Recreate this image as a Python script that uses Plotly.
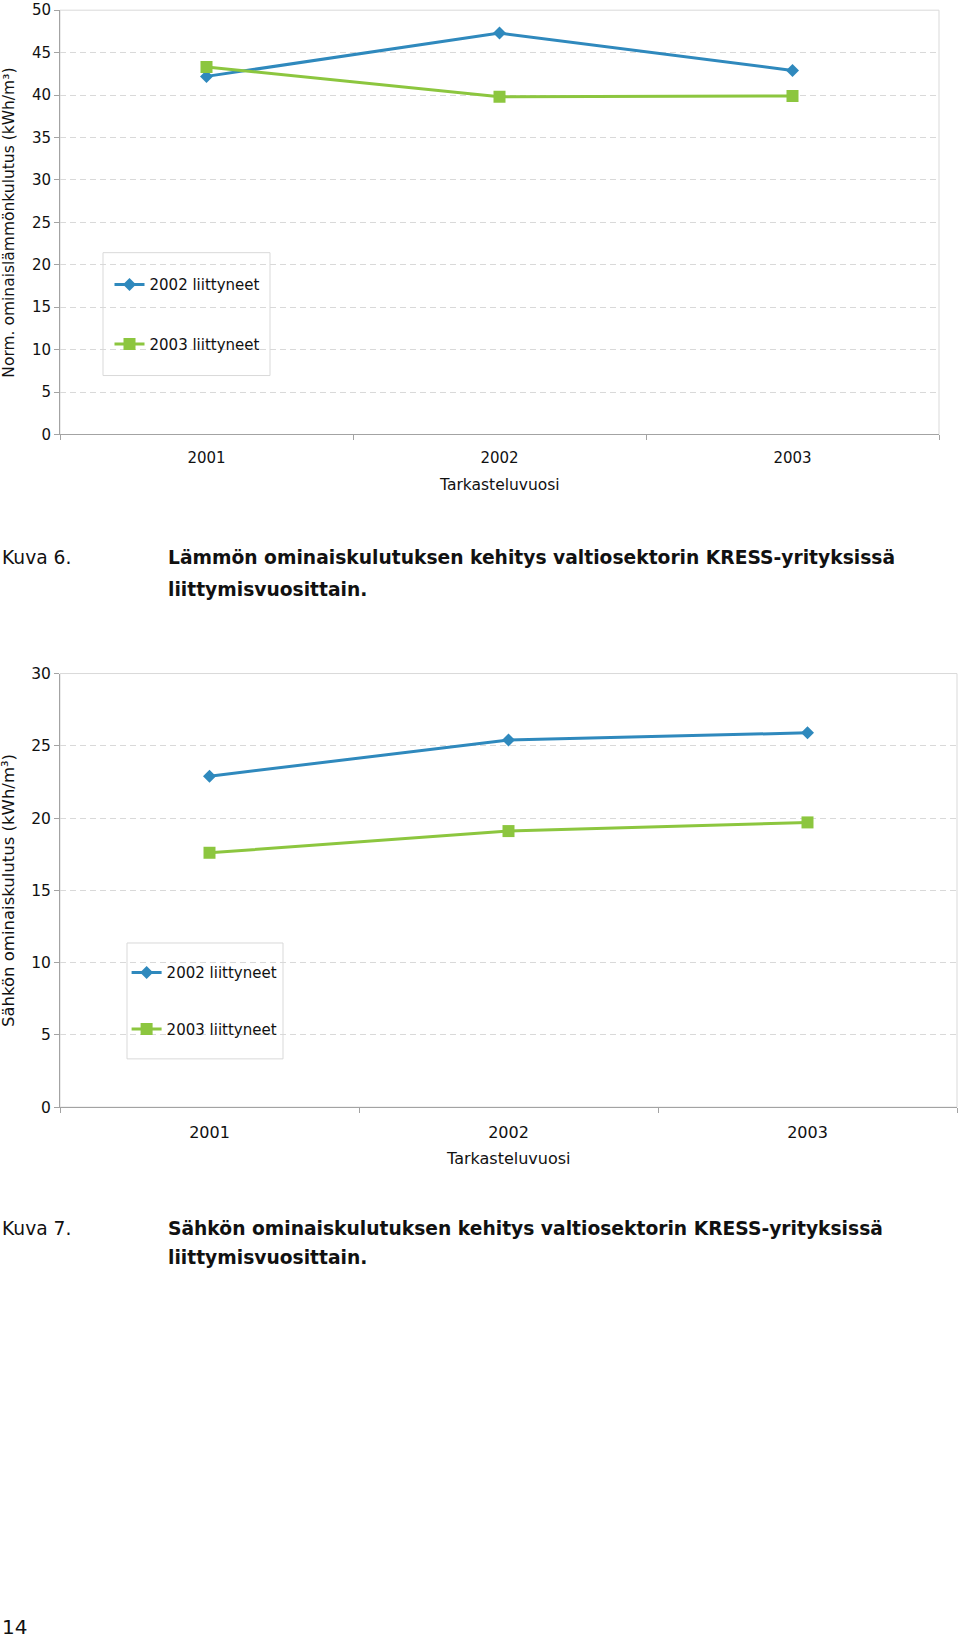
import plotly.graph_objects as go

# ---- data ----
years = ["2001", "2002", "2003"]
series_names = ["2002 liittyneet", "2003 liittyneet"]
heat_2002 = [42.2, 47.3, 42.9]
heat_2003 = [43.3, 39.8, 39.9]
elec_2002 = [22.9, 25.4, 25.9]
elec_2003 = [17.6, 19.1, 19.7]
heat_ticks = list(range(0, 51, 5))
elec_ticks = list(range(0, 31, 5))

W, H = 960, 1642
BLUE = "#2f89bd"
GREEN = "#8cc63f"
GRID = "#d9d9d9"
AXIS = "#a3a3a3"
FONT = "DejaVu Sans"

# the photographed page comes out slightly squeezed vertically; compensate
VS, VO = 0.990, 8.1

def px(x):
    return x / W

def py(y):
    return 1 - ((y - VO) / VS) / H

xs = list(range(len(years)))

fig = go.Figure()

def add_pair(vals_a, vals_b, xa, ya, leg):
    fig.add_trace(go.Scatter(
        x=xs, y=vals_a, name=series_names[0], mode="lines+markers",
        line=dict(color=BLUE, width=3),
        marker=dict(symbol="diamond", size=10, color=BLUE),
        xaxis=xa, yaxis=ya, legend=leg, legendgroup=leg + "a"))
    fig.add_trace(go.Scatter(
        x=xs, y=vals_b, name=series_names[1], mode="lines+markers",
        line=dict(color=GREEN, width=3),
        marker=dict(symbol="square", size=12, color=GREEN),
        xaxis=xa, yaxis=ya, legend=leg, legendgroup=leg + "b"))

add_pair(heat_2002, heat_2003, "x", "y", "legend")
add_pair(elec_2002, elec_2003, "x2", "y2", "legend2")

def xaxis_cfg(dom, anchor, standoff, fs):
    return dict(
        domain=dom, anchor=anchor, range=[-0.5, len(years) - 0.5],
        tickvals=xs, ticktext=years, ticks="", showgrid=False,
        showline=True, linecolor=AXIS, linewidth=1, zeroline=False,
        tickfont=dict(family=FONT, size=fs, color="#111"),
        ticklabelstandoff=standoff,
        minor=dict(tick0=-0.5, dtick=1, ticks="outside", ticklen=5,
                   tickcolor=AXIS, showgrid=False),
        fixedrange=True)

def yaxis_cfg(dom, anchor, ticks, fs):
    return dict(
        domain=dom, anchor=anchor, range=[ticks[0], ticks[-1]],
        tickvals=ticks, ticks="outside", ticklen=5, tickcolor=AXIS,
        showline=True, linecolor=AXIS, linewidth=1, zeroline=False,
        showgrid=True, gridcolor=GRID, griddash="6px,4px", gridwidth=1,
        tickfont=dict(family=FONT, size=fs, color="#111"),
        fixedrange=True)

c1 = dict(l=60, r=939, t=9.3, b=434)
c2 = dict(l=60, r=957, t=673.3, b=1107.3)

fig.update_layout(
    width=W, height=H, margin=dict(l=0, r=0, t=0, b=0),
    paper_bgcolor="white", plot_bgcolor="white",
    xaxis=xaxis_cfg([px(c1["l"]), px(c1["r"])], "y", 10, 15),
    yaxis=yaxis_cfg([py(c1["b"]), py(c1["t"])], "x", heat_ticks, 15),
    xaxis2=xaxis_cfg([px(c2["l"]), px(c2["r"])], "y2", 11, 16),
    yaxis2=yaxis_cfg([py(c2["b"]), py(c2["t"])], "x2", elec_ticks, 15.5),
    legend=dict(x=px(109.5), y=1 - 262 / H, xanchor="left", yanchor="top",
                bgcolor="rgba(0,0,0,0)", borderwidth=0,
                traceorder="grouped", tracegroupgap=37,
                font=dict(family=FONT, size=15, color="#111")),
    legend2=dict(x=px(126.6), y=1 - 957.8 / H, xanchor="left", yanchor="top",
                 bgcolor="rgba(0,0,0,0)", borderwidth=0,
                 traceorder="grouped", tracegroupgap=34,
                 font=dict(family=FONT, size=15, color="#111")),
    showlegend=True,
)

shapes = []
for xr, yr in [("x", "y"), ("x2", "y2")]:
    shapes.append(dict(type="rect", xref=xr + " domain", yref=yr + " domain",
                       x0=0, x1=1, y0=0, y1=1, line=dict(color=GRID, width=1),
                       layer="below"))
# legend boxes
shapes.append(dict(type="rect", xref="paper", yref="paper",
                   x0=px(103), x1=px(270), y0=py(375), y1=py(252),
                   line=dict(color=GRID, width=1), layer="below"))
shapes.append(dict(type="rect", xref="paper", yref="paper",
                   x0=px(127), x1=px(283), y0=py(1059), y1=py(943),
                   line=dict(color=GRID, width=1), layer="below"))
fig.update_layout(shapes=shapes)

ann = []
def text(x, y, s, size=15, angle=0, xanchor="center"):
    ann.append(dict(x=px(x), y=py(y), xref="paper", yref="paper", text=s,
                    showarrow=False, textangle=angle, xanchor=xanchor,
                    yanchor="middle",
                    font=dict(family=FONT, size=size, color="#111")))

text(9, 222, "Norm. ominaislämmönkulutus (kWh/m³)", size=15.5, angle=-90)
text(499.5, 485, "Tarkasteluvuosi", size=15.5)
text(8, 891, "Sähkön ominaiskulutus (kWh/m³)", size=16.5, angle=-90)
text(508, 1159, "Tarkasteluvuosi", size=16)

cap_size = 18.7
text(0, 557, "Kuva 6.", size=cap_size, xanchor="left")
text(166, 557, "<b>Lämmön ominaiskulutuksen kehitys valtiosektorin KRESS-yrityksissä</b>", size=cap_size, xanchor="left")
text(166, 589, "<b>liittymisvuosittain.</b>", size=cap_size, xanchor="left")
text(0, 1229, "Kuva 7.", size=cap_size, xanchor="left")
text(166, 1229, "<b>Sähkön ominaiskulutuksen kehitys valtiosektorin KRESS-yrityksissä</b>", size=cap_size, xanchor="left")
text(166, 1258, "<b>liittymisvuosittain.</b>", size=cap_size, xanchor="left")
text(0, 1628, "14", size=20, xanchor="left")

fig.update_layout(annotations=ann)

fig.write_html("out.html")
